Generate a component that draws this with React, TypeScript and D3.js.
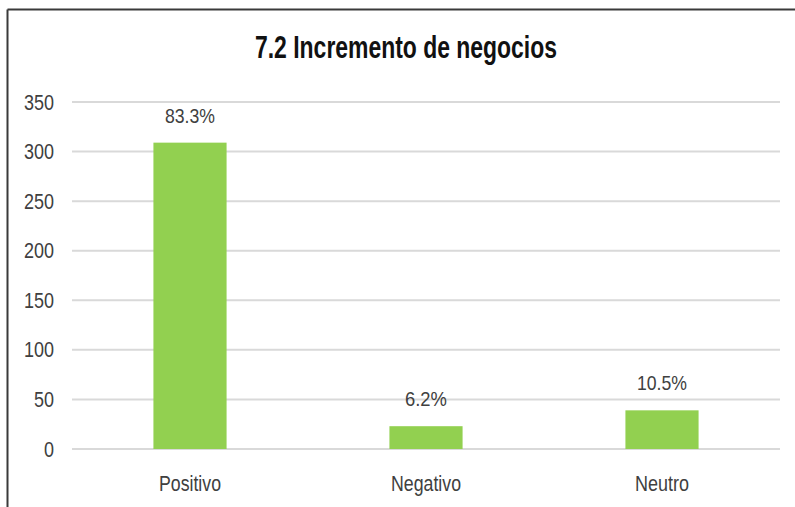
import React from "react";
import * as d3 from "d3";

const title = "7.2 Incremento de negocios";
const categories = ["Positivo", "Negativo", "Neutro"];
const values = [309, 23, 39];
const percentLabels = ["83.3%", "6.2%", "10.5%"];
const yTicks = [0, 50, 100, 150, 200, 250, 300, 350];

const W = 795;
const H = 507;
const left = 72;
const right = 780;
const top = 102;
const bottom = 449;

export default function App() {
  const x = d3.scaleBand<string>().domain(categories).range([left, right]).paddingInner(0.69).paddingOuter(0.345);
  const y = d3.scaleLinear().domain([0, 350]).range([bottom, top]);
  const font = "'Liberation Sans', Arial, sans-serif";
  const catWidths = [62, 70, 54];
  const labelWidths = [50, 42, 50];
  return (
    <svg width={W} height={H} style={{ position: "absolute", left: 0, top: 0, background: "#fff" }}>
      <rect x={0} y={0} width={W} height={H} fill="#fff" />
      <line x1={7.5} y1={9.5} x2={W} y2={9.5} stroke="#3a3a3a" strokeWidth={2} />
      <line x1={7.5} y1={9.5} x2={7.5} y2={H} stroke="#3a3a3a" strokeWidth={2} />
      <text x={406} y={58} textAnchor="middle" fontFamily={font} fontWeight="bold" fontSize={32} fill="#111" textLength={302} lengthAdjust="spacingAndGlyphs">
        {title}
      </text>
      {yTicks.map((t) => (
        <g key={t}>
          <line x1={left} x2={right} y1={y(t)} y2={y(t)} stroke="#d9d9d9" strokeWidth={2} />
          <text x={54} y={y(t) + 7.5} textAnchor="end" fontFamily={font} fontSize={21.5} fill="#404040" textLength={String(t).length * 10} lengthAdjust="spacingAndGlyphs">
            {t}
          </text>
        </g>
      ))}
      {categories.map((c, i) => {
        const bx = x(c)!;
        const bw = x.bandwidth();
        const cx = bx + bw / 2;
        return (
          <g key={c}>
            <rect x={bx} y={y(values[i])} width={bw} height={bottom - y(values[i])} fill="#92d050" />
            <text x={cx} y={y(values[i]) - 20} textAnchor="middle" fontFamily={font} fontSize={21} fill="#404040" textLength={labelWidths[i]} lengthAdjust="spacingAndGlyphs">
              {percentLabels[i]}
            </text>
            <text x={cx} y={491} textAnchor="middle" fontFamily={font} fontSize={22} fill="#404040" textLength={catWidths[i]} lengthAdjust="spacingAndGlyphs">
              {c}
            </text>
          </g>
        );
      })}
    </svg>
  );
}
